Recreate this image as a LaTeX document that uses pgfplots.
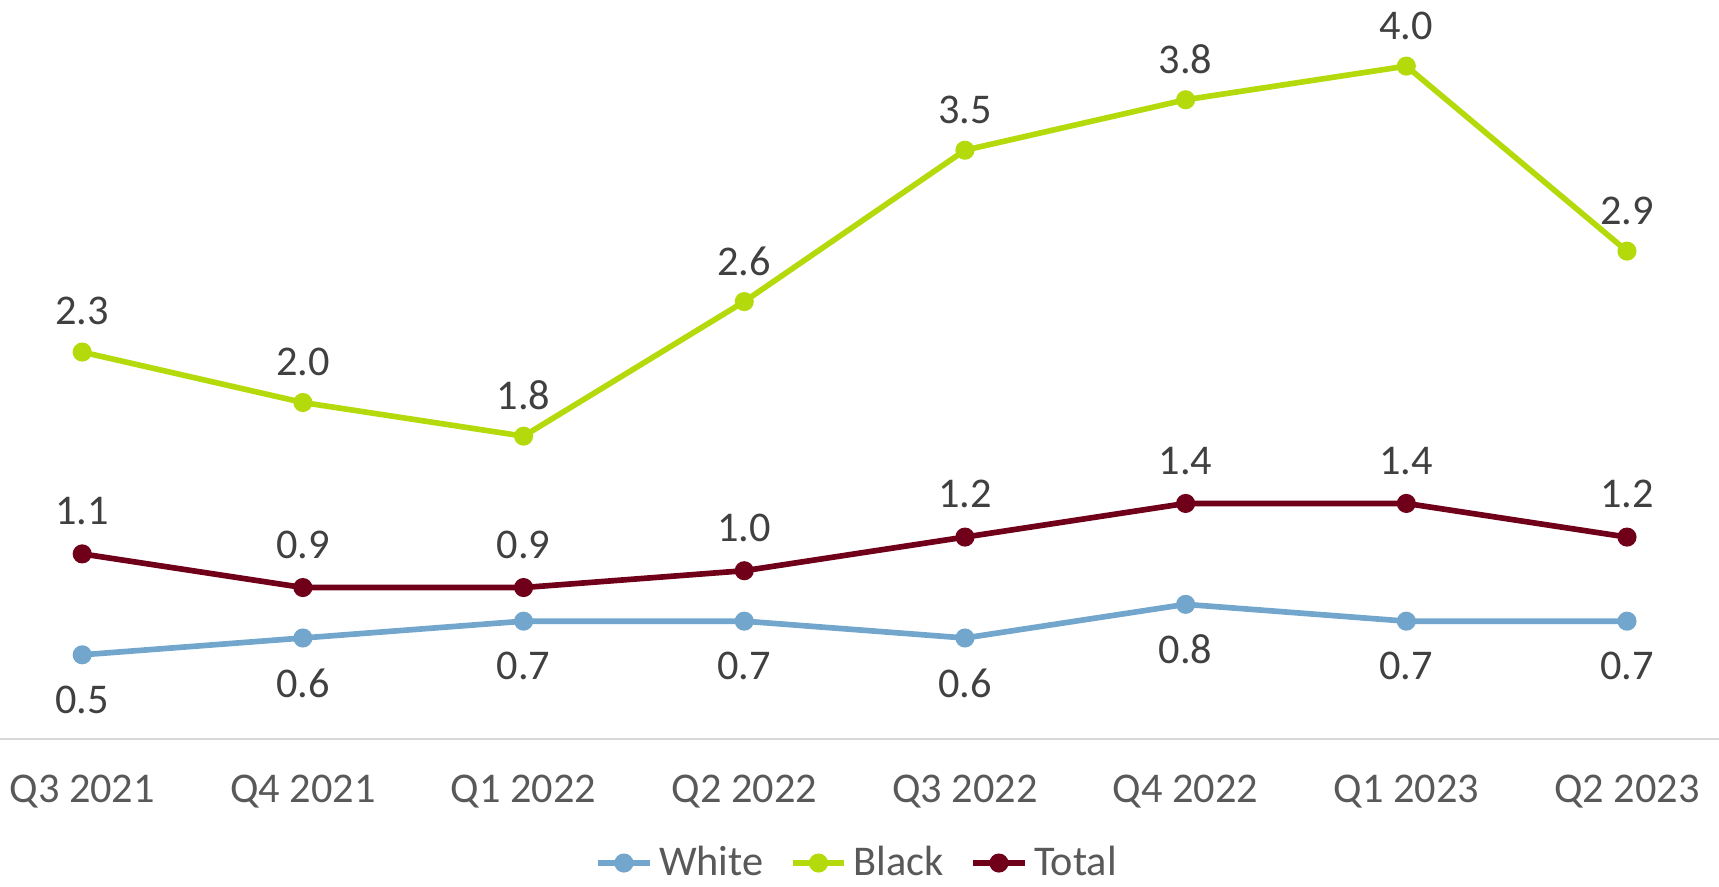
\documentclass[border=0pt]{standalone}
\usepackage{pgfplots}
\pgfplotsset{compat=1.18}
\usepackage{fontspec}
\setmainfont{Carlito}
\definecolor{cwhite}{RGB}{114,166,205}
\definecolor{cblack}{RGB}{181,218,12}
\definecolor{ctotal}{RGB}{112,0,26}
\definecolor{lblgray}{RGB}{64,64,64}
\definecolor{tickgray}{RGB}{89,89,89}
\definecolor{axgray}{RGB}{217,217,217}
\begin{document}
\begin{tikzpicture}
\begin{axis}[
  scale only axis,
  width=515.7pt, height=221.67pt,
  xmin=-0.3725, xmax=7.417,
  ymin=0, ymax=4.393,
  axis lines=none,
  clip=false,
  xtick=data,
  xticklabels={Q3 2021,Q4 2021,Q1 2022,Q2 2022,Q3 2022,Q4 2022,Q1 2023,Q2 2023},
  ytick=\empty,
  /pgf/number format/assume math mode=true,
  every axis plot/.append style={line width=1.7pt, mark=*, mark size=2pt},
  nodes near coords={\pgfmathprintnumber[fixed,fixed zerofill,precision=1]{\pgfplotspointmeta}},
  every node near coord/.append style={font=\fontsize{12.7}{15}\selectfont, text=lblgray},
  legend style={at={(0.5,-0.168)}, anchor=center, draw=none, legend columns=3,
     font=\fontsize{12.7}{15}\selectfont, text=tickgray, inner sep=1pt,
     /tikz/every even column/.append style={column sep=6pt}},
  legend image code/.code={\draw[#1, mark repeat=2, mark phase=2] plot coordinates {(0cm,0cm) (0.27cm,0cm) (0.54cm,0cm)};},
]
\draw[axgray, line width=0.6pt] (axis cs:-0.3725,0) -- (axis cs:7.417,0);
\addplot[cwhite, every node near coord/.append style={anchor=center, yshift=-13.5pt}] coordinates {(0,0.5) (1,0.6) (2,0.7) (3,0.7) (4,0.6) (5,0.8) (6,0.7) (7,0.7)};
\addlegendentry{White}
\addplot[cblack, every node near coord/.append style={anchor=center, yshift=12.2pt}] coordinates {(0,2.3) (1,2.0) (2,1.8) (3,2.6) (4,3.5) (5,3.8) (6,4.0) (7,2.9)};
\addlegendentry{Black}
\addplot[ctotal, every node near coord/.append style={anchor=center, yshift=12.8pt}] coordinates {(0,1.1) (1,0.9) (2,0.9) (3,1.0) (4,1.2) (5,1.4) (6,1.4) (7,1.2)};
\addlegendentry{Total}
\foreach \i/\t in {0/Q3 2021,1/Q4 2021,2/Q1 2022,3/Q2 2022,4/Q3 2022,5/Q4 2022,6/Q1 2023,7/Q2 2023} {
  \edef\tmp{\noexpand\node[font=\noexpand\fontsize{12.7}{15}\noexpand\selectfont, text=tickgray, anchor=center] at ([yshift=-15.8pt]axis cs:\i,0) {\t};}
  \tmp
}
\end{axis}
\pgfresetboundingbox
\path[use as bounding box] (0,-44.13pt) rectangle (515.7pt,221.67pt);
\end{tikzpicture}
\end{document}
